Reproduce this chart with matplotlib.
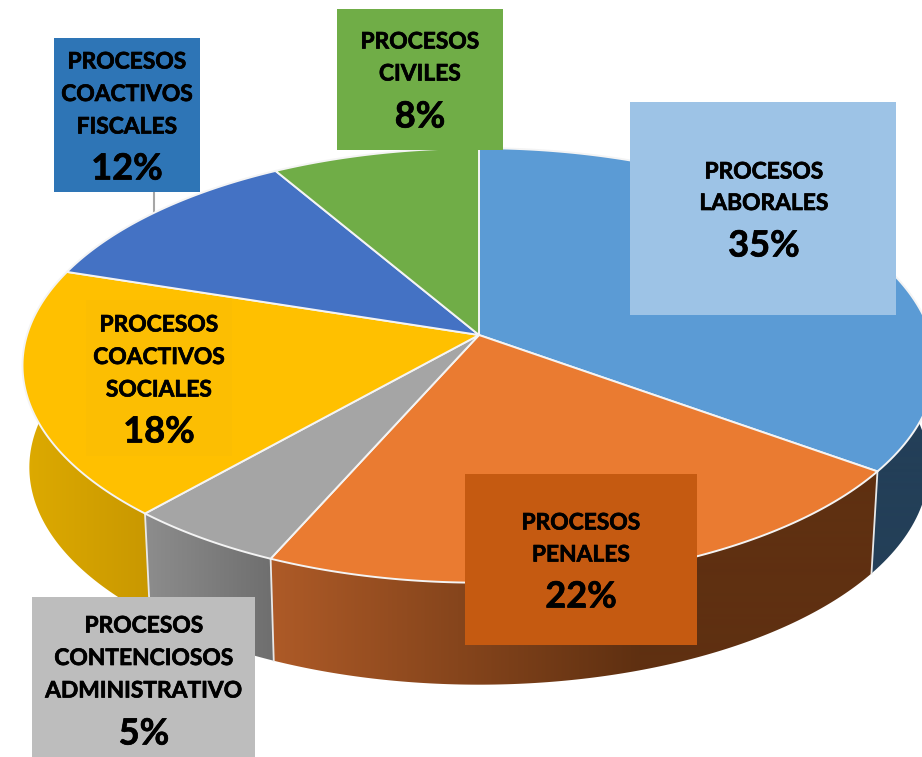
import numpy as np
import matplotlib
matplotlib.use("Agg")
import matplotlib.pyplot as plt
import matplotlib.patheffects as pe
from matplotlib.colors import LinearSegmentedColormap
from matplotlib.patches import Polygon, Rectangle

plt.rcParams["font.family"] = ["Lato", "DejaVu Sans"]

# slices, clockwise from twelve o'clock
names = [
    "PROCESOS\nLABORALES",
    "PROCESOS\nPENALES",
    "PROCESOS\nCONTENCIOSOS\nADMINISTRATIVO",
    "PROCESOS\nCOACTIVOS\nSOCIALES",
    "PROCESOS\nCOACTIVOS\nFISCALES",
    "PROCESOS\nCIVILES",
]
shares = [35, 22, 5, 18, 12, 8]
face_colors = ["#5B9BD5", "#EA7B31", "#A5A5A5", "#FFC000", "#4472C4", "#70AD47"]
wall_colors = [
    ("#233F58", "#233F58"),
    ("#AD5A27", "#5F3011"),
    ("#8C8C8C", "#6E6E6E"),
    ("#DDAA00", "#C99800"),
    ("#2F5597", "#2F5597"),
    ("#4E7A32", "#4E7A32"),
]
wall_spans = [(600, 922), (275, 640), (148, 275), (25, 148), (25, 280), (280, 479)]

# label boxes: left, top, right, bottom, colour, text centre x, first line y, line step, percent y
boxes = [
    (630, 102, 896, 315, "#9DC3E6", 764, 170, 31.5, 243),
    (465, 474, 697, 645, "#C55A11", 581, 521, 32, 594),
    (32, 597, 255, 757, "#BDBDBD", 144, 624, 32.5, 731),
    (86, 300, 232, 456, "#FCBE02", 159, 323, 32.5, 429),
    (54, 38, 200, 192, "#2E75B6", 127, 60, 32.5, 166),
    (337, 9, 503, 150, "#70AD47", 420, 40, 32, 114),
]

CX, CY = 479, 335
A, B, K = 452, 213, 0.14
DEPTH = 102
# small angle correction (degrees), the simple perspective alone misses the slice corners
WARP_AT = [0, 126, 205, 223, 288, 331, 360]
WARP_BY = [0, 0, 1.5, 1.8, 0, 1.5, 0]


def project(theta, drop=0.0, shrink=1.0):
    # circle seen in perspective, far side gets smaller
    t = theta - np.radians(np.interp(np.degrees(theta), WARP_AT, WARP_BY))
    u, v = np.sin(t), np.cos(t)
    x = CX + shrink * A * u / (1 + K * v)
    y = CY - B * v / (1 + K * v) + drop
    return x, y


fig = plt.figure(figsize=(9.22, 7.57), dpi=100)
ax = fig.add_axes([0, 0, 1, 1])

edges = np.cumsum([0] + shares) / sum(shares) * 2 * np.pi

ax.plot([154, 154], [190, 214], color="#A6A6A6", lw=1.5, zorder=1)

# side walls first, the top faces cover what should not show
xs = np.arange(0, 923)
for i in range(len(shares)):
    theta = np.linspace(edges[i], edges[i + 1], 120)
    if not np.any(np.cos(theta) < 0):
        continue
    xt, yt = project(theta)
    xb, yb = project(theta[::-1], DEPTH, 0.985)
    pts = np.column_stack([np.r_[xt, xb], np.r_[yt, yb]])
    wall = Polygon(pts, closed=True, facecolor="none", edgecolor="none", zorder=2)
    ax.add_patch(wall)
    cmap = LinearSegmentedColormap.from_list("wall", wall_colors[i])
    x0, x1 = wall_spans[i]
    grad = np.clip((xs - x0) / (x1 - x0), 0, 1).reshape(1, -1)
    im = ax.imshow(grad, cmap=cmap, extent=(0, 922, 757, 0), aspect="auto", zorder=2)
    im.set_clip_path(wall)
    if np.cos(edges[i]) < 0:
        xa, ya = project(np.array([edges[i]]))
        xc, yc = project(np.array([edges[i]]), DEPTH, 0.985)
        ax.plot([xa[0], xc[0]], [ya[0], yc[0]], color="#E8E8E8", lw=1.3, zorder=3)

ax.set_xlim(0, 922)
ax.set_ylim(757, 0)
ax.axis("off")

# top faces
for i in range(len(shares)):
    theta = np.linspace(edges[i], edges[i + 1], 120)
    x, y = project(theta)
    pts = np.column_stack([np.r_[CX, x], np.r_[CY, y]])
    ax.add_patch(Polygon(pts, closed=True, facecolor=face_colors[i], edgecolor="#F4F4F4",
                         lw=1.4, joinstyle="round", zorder=4))

# label boxes and their text, a thin stroke to get closer to the heavy original
heavy = [pe.withStroke(linewidth=0.5, foreground="black")]
for name, share, box in zip(names, shares, boxes):
    left, top, right, bottom, color, tx, ty, step, py = box
    ax.add_patch(Rectangle((left, top), right - left, bottom - top, facecolor=color,
                           edgecolor="none", zorder=5))
    for j, line in enumerate(name.split("\n")):
        ax.text(tx, ty + j * step + 8.5, line, ha="center", va="baseline", fontsize=16.4,
                fontweight="bold", color="black", zorder=6, path_effects=heavy)
    ax.text(tx, py + 13.5, f"{share}%", ha="center", va="baseline", fontsize=26,
            fontweight="bold", color="black", zorder=6, path_effects=heavy)

fig.savefig("out.png", dpi=100)
